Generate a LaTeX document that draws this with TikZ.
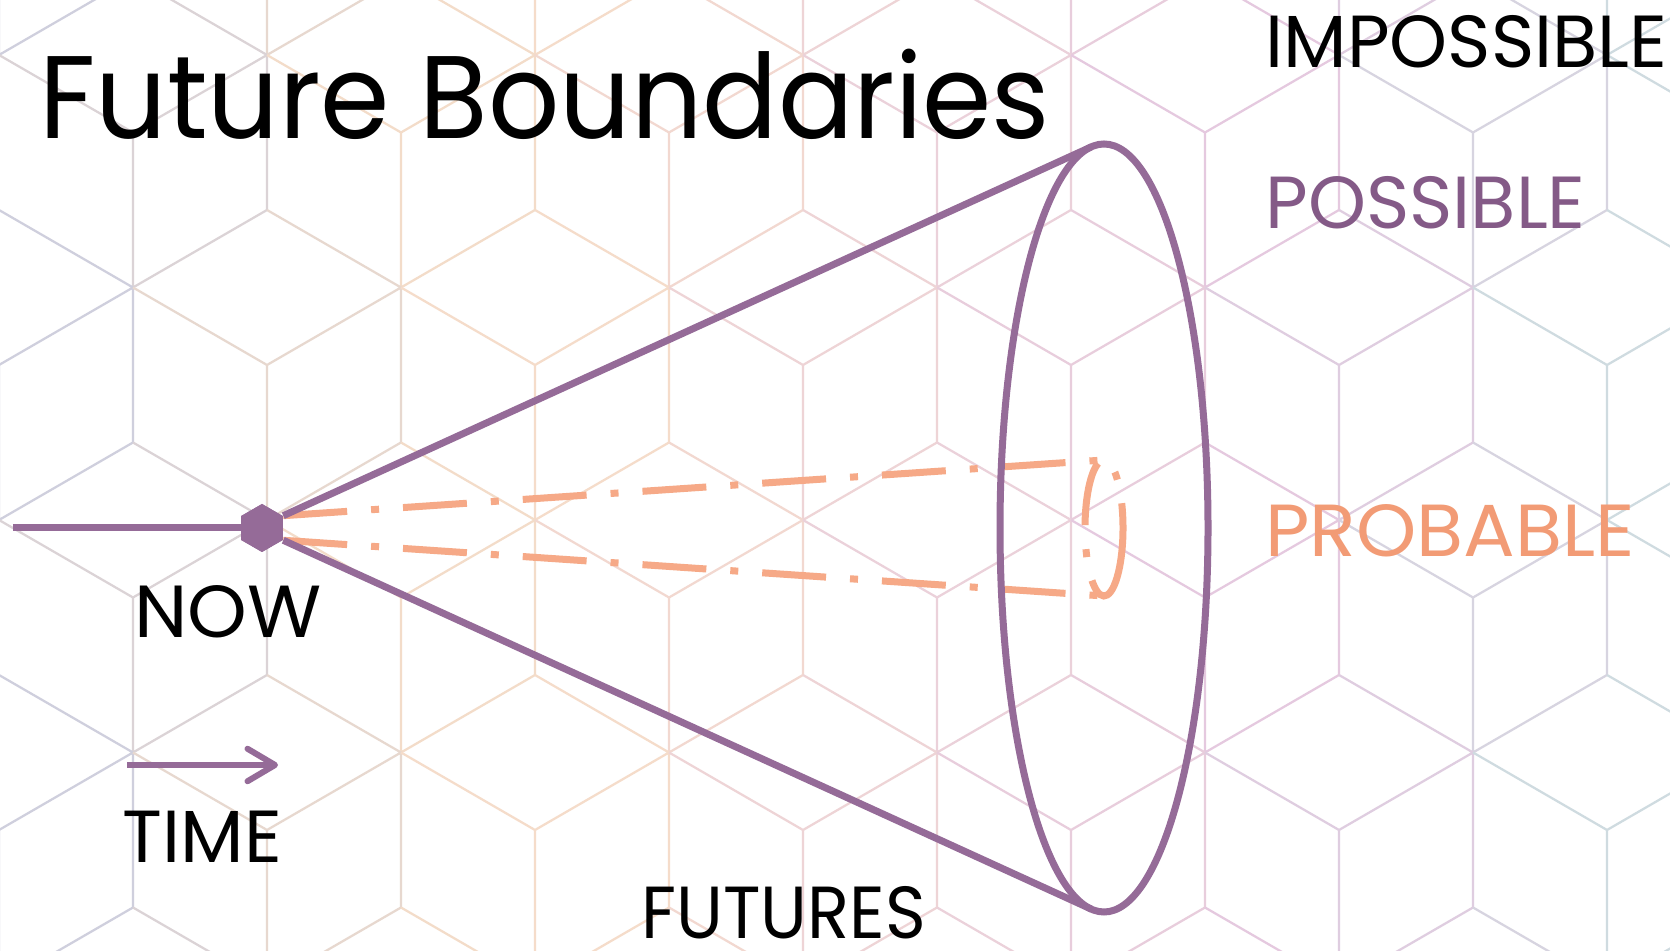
\documentclass[tikz,border=0pt]{standalone}
\usepackage{fontspec}
\usepackage{xcolor}
\usetikzlibrary{positioning,arrows.meta,calc}
\usepgflibrary{shapes.geometric}
\newfontfamily\gothic{Poppins}
\newfontfamily\gothichead{Poppins}[FakeStretch=0.95]
\definecolor{conepurple}{HTML}{956B98}
\definecolor{posspurple}{HTML}{845A87}
\definecolor{probpeach}{HTML}{F6A987}
\definecolor{probtext}{HTML}{F29B75}
\definecolor{bgA}{HTML}{CFCFDD}
\definecolor{bgB}{HTML}{F7DEC6}
\definecolor{bgC}{HTML}{EDD3D8}
\definecolor{bgD}{HTML}{E4C8E0}
\definecolor{bgE}{HTML}{CFDBE0}
\tikzset{%
bound/.style={draw=conepurple,line width=2.8pt},
probline/.style={draw=probpeach,line width=2.8pt,dash pattern=on 25.6pt off 9.6pt on 3.2pt off 9.6pt},
nowhex/.style={regular polygon,regular polygon sides=6,shape border rotate=30,fill=conepurple,minimum size=19.2pt,inner sep=0},
timearrow/.style={draw=conepurple,line width=2.4pt,-{Straight Barb[round,length=11pt,width=13pt]}},
caption/.style={font=\gothic\fontsize{29.5}{30}\selectfont,inner sep=0,anchor=base west},
headline/.style={font=\gothichead\fontsize{47}{48}\selectfont,inner sep=0,anchor=base west},
bgline/.style={line width=0.9pt}
}

\begin{document}
\begin{tikzpicture}[x=0.4pt,y=0.4pt]

    \useasboundingbox (0,0) rectangle (1670,951);
    \fill[white] (0,0) rectangle (1670,951);

    \begin{scope}
    \clip (0,0) rectangle (1670,951);
    \foreach \j in {-2,...,3}{
      \foreach \i in {-1,...,6}{
        \pgfmathsetmacro\cx{267+268*\i+134*mod(abs(\j),2)}
        \pgfmathsetmacro\cy{586-232.5*\j}
        \ifdim\cx pt<450pt
          \pgfmathsetmacro\p{max(0,\cx/4.5)}\colorlet{hexcol}{bgB!\p!bgA}
        \else\ifdim\cx pt<850pt
          \pgfmathsetmacro\p{(\cx-450)/4}\colorlet{hexcol}{bgC!\p!bgB}
        \else\ifdim\cx pt<1250pt
          \pgfmathsetmacro\p{(\cx-850)/4}\colorlet{hexcol}{bgD!\p!bgC}
        \else
          \pgfmathsetmacro\p{min(100,(\cx-1250)/3.5)}\colorlet{hexcol}{bgE!\p!bgD}
        \fi\fi\fi
        \draw[bgline,draw=hexcol] (\cx,\cy) -- ++(-134,77.5) (\cx,\cy) -- ++(134,77.5)
          (\cx,\cy) -- ++(0,-155)
          (\cx,\cy) ++(0,155) -- ++(134,-77.5) -- ++(0,-155) -- ++(-134,-77.5);
      }
    }
    \end{scope}

    \node[headline] (title) at (39,812) {Future Boundaries};
    \node[caption] (imposs) at (1265,883) {IMPOSSIBLE};
    \node[caption,text=posspurple] (poss) at (1265,722) {POSSIBLE};
    \node[caption,text=probtext] (prob) at (1265,394) {\addfontfeature{FakeStretch=1.04}PROBABLE};

    \node[nowhex] (now) at (262,423) {};
    \coordinate (past) at (13,423);
    \coordinate (rim) at (1104,423);
    \coordinate (rimtop) at ($(rim)+(97.1:104 and 384)$);
    \coordinate (rimbot) at ($(rim)+(-97.1:104 and 384)$);
    \coordinate (probtop) at ($(rim)+(0,68)$);
    \coordinate (probbot) at ($(rim)+(0,-68)$);

    \path[probline] (now.30) edge (probtop)
                    (now.-30) edge (probbot);
    \draw[probline] ($(rim)+(-35:19 and 68)$) arc[start angle=-35,end angle=325,x radius=19,y radius=68];

    \draw[bound] (rim) ellipse [x radius=104,y radius=384];
    \path[bound] (now.30) edge (rimtop)
                 (now.-30) edge (rimbot);
    \draw[bound] (past) -- (now);
    \node[nowhex] at (now) {};

    \node[caption] (nowlbl) at (134,313) {\addfontfeature{FakeStretch=1.03}NOW};

    \coordinate (t0) at (127,186);
    \coordinate (t1) at (278,186);
    \draw[timearrow] (t0) -- (t1);
    \node[caption] (timelbl) at (122,88) {TIME};

    \node[caption] (futlbl) at (641,12) {\addfontfeature{FakeStretch=0.94}FUTURES};

\end{tikzpicture}
\end{document}
